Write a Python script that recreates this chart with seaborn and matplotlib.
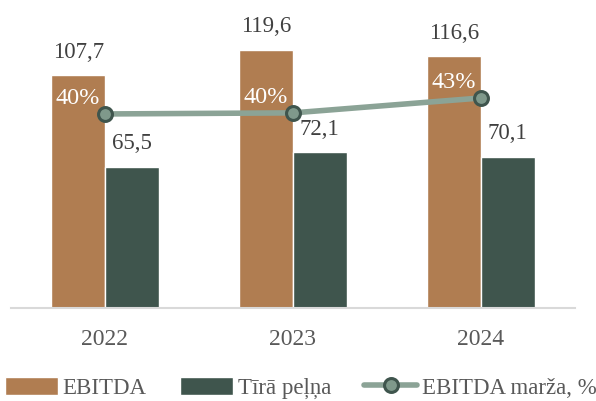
import numpy as np
import pandas as pd
import matplotlib.pyplot as plt
import seaborn as sns
from matplotlib.patches import Patch
from matplotlib.lines import Line2D

# --- Datos ---
years = ["2022", "2023", "2024"]
ebitda = [107.7, 119.6, 116.6]
net_profit = [65.5, 72.1, 70.1]
margin = [40.0, 40.2, 43.0]
series_names = ["EBITDA", "Tīrā peļņa"]
margin_name = "EBITDA marža, %"

BROWN = "#B07D51"
GREEN = "#3F554D"
LINE = "#8BA396"
TEXT = "#404040"

df = pd.DataFrame({
    "year": years * 2,
    "value": ebitda + net_profit,
    "series": [series_names[0]] * 3 + [series_names[1]] * 3,
})

sns.set_style("white")
plt.rcParams["font.family"] = ["Liberation Serif", "DejaVu Serif"]

fig = plt.figure(figsize=(5.96, 4.01), dpi=100)
ax = fig.add_axes([11 / 596, 93 / 401, 564 / 596, 298 / 401])

sns.barplot(data=df, x="year", y="value", hue="series", palette=[BROWN, GREEN],
            width=0.57, legend=False, ax=ax, saturation=1)
ax.set_xlim(-0.5, 2.5)
ax.set_ylim(0, 138)

for cont in ax.containers:
    ax.bar_label(cont, fmt=lambda v: f"{v:.1f}".replace(".", ","), padding=9,
                 fontsize=16.5, color=TEXT)

ax.set_xlabel("")
ax.set_ylabel("")
ax.set_yticks([])
ax.tick_params(axis="x", length=0, pad=15, labelsize=17, labelcolor="#595959")
for s in ["top", "left", "right"]:
    ax.spines[s].set_visible(False)
ax.spines["bottom"].set_color("#D9D9D9")
ax.spines["bottom"].set_linewidth(1.5)

# --- Línea de margen ---
ax2 = ax.twinx()
pos = np.arange(len(years))
sns.lineplot(x=pos, y=margin, color=LINE, linewidth=4, marker="o", markersize=10,
             markerfacecolor="#7F998B", markeredgecolor=GREEN, markeredgewidth=2.2, ax=ax2)
ax2.set_ylim(3.6, 59.5)
ax2.set_yticks([])
for s in ["top", "left", "right", "bottom"]:
    ax2.spines[s].set_visible(False)

for x, m in zip(pos, margin):
    ax2.annotate(f"{m:.0f}%", (x, m), xytext=(-19.5, 11), textcoords="offset points",
                 ha="center", va="center", color="white", fontsize=17.5)

# --- Leyenda ---
handles = [
    Patch(facecolor=BROWN, label=series_names[0]),
    Patch(facecolor=GREEN, label=series_names[1]),
    Line2D([0], [0], color=LINE, linewidth=4, marker="o", markersize=10,
           markerfacecolor="#7F998B", markeredgecolor=GREEN, markeredgewidth=2.2,
           label=margin_name),
]
fig.legend(handles=handles, loc="center left", bbox_to_anchor=(5 / 596, 1 - 388 / 401),
           ncol=3, frameon=False, fontsize=16.5, handlelength=2.3, handleheight=0.8,
           handletextpad=0.22, columnspacing=1.45, borderpad=0, borderaxespad=0,
           labelcolor="#595959")

plt.savefig("out.png", dpi=100)
